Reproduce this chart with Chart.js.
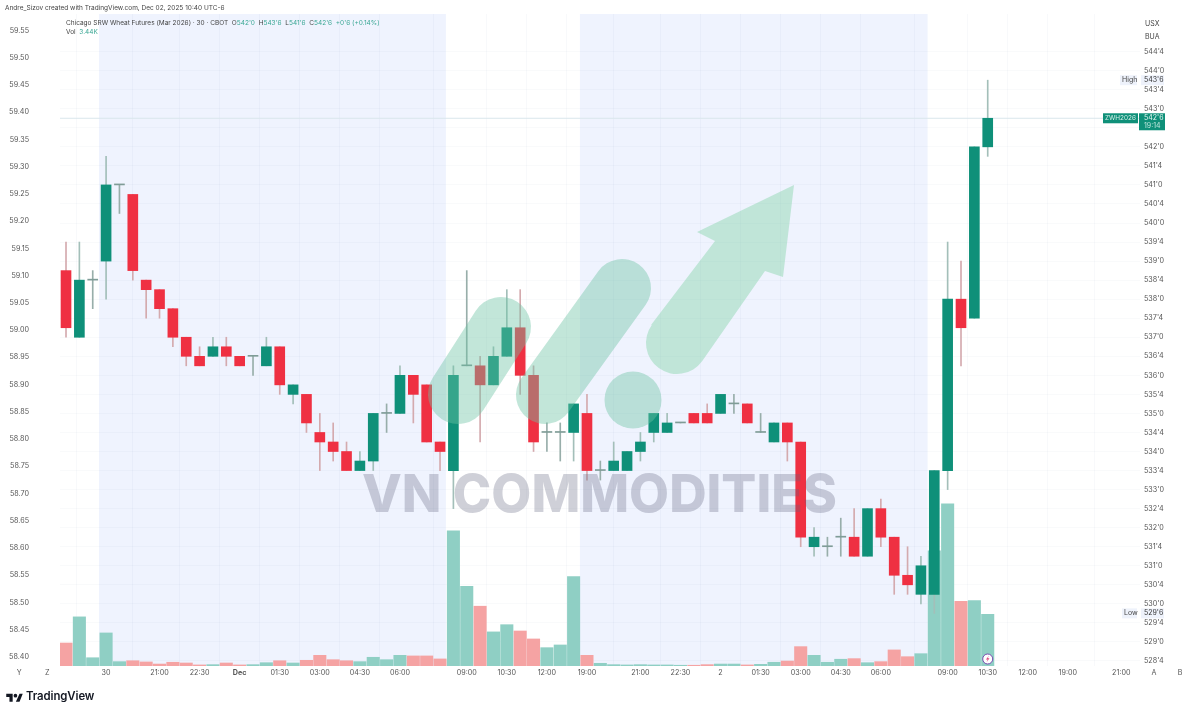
<!DOCTYPE html>
<html>
<head>
<meta charset="utf-8">
<title>Chicago SRW Wheat Futures</title>
<script src="https://cdn.jsdelivr.net/npm/chart.js@4"></script>
<style>
  html, body { margin: 0; padding: 0; background: #fff; }
  #wrap { position: relative; width: 1200px; height: 713px; overflow: hidden; font-family: Inter, "Noto Sans", sans-serif; color: #444; }
  #wrap div.t { position: absolute; white-space: nowrap; font-size: 6.5px; line-height: 10px; }
  .up { color: #3aa794; }
</style>
</head>
<body>
<div id="wrap">
  <canvas id="myChart" width="1200" height="713"></canvas>
  <div class="t" style="left:5px;top:3px">Andre_Sizov created with TradingView.com, Dec 02, 2025 10:40 UTC-6</div>
  <div class="t" style="left:66px;top:18px">Chicago SRW Wheat Futures (Mar 2026) · 30 · CBOT &nbsp;O<span class="up">542'0</span> &nbsp;H<span class="up">543'6</span> &nbsp;L<span class="up">541'6</span> &nbsp;C<span class="up">542'6</span> &nbsp;<span class="up">+0'6 (+0.14%)</span></div>
  <div class="t" style="left:66px;top:27px">Vol &nbsp;<span class="up">3.44K</span></div>
  <div class="t" style="left:1145px;top:19px;font-size:7px">USX</div>
  <div class="t" style="left:1145px;top:32px;font-size:7px">BUA</div>
  <svg style="position:absolute;left:6px;top:692px" width="17" height="11" viewBox="0 0 36 24" fill="#131722"><path d="M14 4H0v7h7v10h7zM29 21h-8l8-17h7z"/><circle cx="20" cy="8" r="4"/></svg>
  <div class="t" style="left:26px;top:689px;font-size:11.4px;line-height:15px;font-weight:600;color:#131722;letter-spacing:-0.1px">TradingView</div>
</div>
<script>
// candle values in cents
const opens = [538.75,537,538.5,539,541,540.75,538.5,538.25,537.75,537,536.5,536.5,536.75,536.5,536.5,536.25,536.75,535.5,535.5,534.5,
  534.25,534,533.5,533.75,535,535,536,535.75,534.25,533.5,536.25,536.25,535.75,536.5,537.25,536,534.5,534.5,534.5,535,
  533.5,533.5,533.5,534,534.5,534.5,534.75,535,535,535,535.25,535.25,534.5,534.25,534.75,534.25,531.5,531.5,531.75,531.75,
  531.25,532.5,531.75,530.75,530.25,530.25,533.5,538,537.5,542];
const highs = [539.5,539.5,538.75,541.75,541,540.75,538.5,538.25,537.75,537,536.75,537,537,536.5,536.5,537,536.75,535.75,535.5,535,
  534.75,534.25,534,535,535.25,536.25,536,535.75,534.25,536.25,538.75,536.5,536.75,538.25,538.25,536.25,534.75,534.75,535.25,535.5,
  533.75,534.25,534,534.5,535,535,534.75,535,535.25,535.5,535.5,535.25,535,534.75,534.75,534.25,532,531.75,532.25,532.5,
  532.5,532.75,531.75,531.5,531.25,533.5,539.5,539,542,543.75];
const lows = [537,537,537.75,538,540.25,538.5,537.5,537.5,536.75,536.25,536.25,536.5,536.25,536.25,536,536.25,535.5,535.25,534.5,533.5,
  533.75,533.5,533.5,533.5,534.5,535,534.75,534.25,533.5,532.5,536.25,534.25,535.75,536.5,535.5,534,534,533.75,533.75,533.25,
  533.25,533.5,533.5,533.75,534.25,534.5,534.75,534.75,534.75,535,535,534.75,534.5,534.25,533.75,531.5,531.25,531.25,531.25,531.25,
  531.25,531.5,530.25,530.25,530,529.75,533,536.25,537.5,541.75];
const closes = [537.25,538.5,538.5,541,541,538.75,538.25,537.75,537,536.5,536.25,536.75,536.5,536.25,536.5,536.75,535.75,535.75,534.75,534.25,
  534,533.5,533.75,535,535,536,535.5,534.25,534,536,536.25,535.75,536.5,537.25,536,534.25,534.5,534.5,535.25,533.5,
  533.5,533.75,534,534.25,535,534.75,534.75,534.75,534.75,535.5,535.25,534.75,534.5,534.75,534.25,531.75,531.75,531.5,531.75,531.25,
  532.5,531.75,530.75,530.5,531,533.5,538,537.25,542,542.75];
// volume in thousands of contracts
const volumes = [1.53,3.27,0.55,2.2,0.29,0.35,0.27,0.13,0.25,0.2,0.07,0.09,0.2,0.07,0.09,0.22,0.35,0.2,0.38,0.71,
  0.42,0.35,0.29,0.58,0.42,0.71,0.67,0.67,0.47,9.0,5.31,3.98,2.27,2.75,2.33,1.8,1.22,1.4,5.95,0.71,
  0.18,0.09,0.07,0.09,0.07,0.07,0.05,0.05,0.09,0.13,0.13,0.07,0.11,0.25,0.33,1.29,0.71,0.25,0.45,0.49,
  0.22,0.29,1.07,0.62,0.82,7.67,10.8,4.31,4.35,3.44];

// time axis: candle index of each label, Y Z A B sit outside the pane
const timeTicks = [-3.5,-1.4,3,7,10,13,16,19,22,25,30,33,36,39,43,46,49,52,55,58,61,66,69,72,75,79,81.45,83.4];
const timeLabels = ['Y','Z','30','21:00','22:30','Dec','01:30','03:00','04:30','06:00','09:00','10:30','12:00','19:00','21:00','22:30','2','01:30','03:00','04:30','06:00','09:00','10:30','12:00','19:00','21:00','A','B'];
// out of hours sessions, in candle index
const sessionBands = [[2.47,28.44],[38.47,64.5]];

const leftTicks = [59.55,59.5,59.45,59.4,59.35,59.3,59.25,59.2,59.15,59.1,59.05,59,58.95,58.9,58.85,58.8,58.75,58.7,58.65,58.6,58.55,58.5,58.45,58.4];
const rightTicks = [544.5,544,543.5,543,542.5,542,541.5,541,540.5,540,539.5,539,538.5,538,537.5,537,536.5,536,535.5,535,534.5,534,533.5,533,532.5,532,531.5,531,530.5,530,529.5,529,528.5];

const highPrice = 543.75;
const lowPrice = 529.75;
const lastPrice = 542.75;

const GREEN = '#0f9079';
const RED = '#ef3042';

// 542.75 -> 542'6
function fmtCents(v){
    const whole = Math.floor(v);
    return whole + "'" + Math.round((v - whole) * 8);
}
function isUp(i){ return closes[i] >= opens[i]; }

// session shading, goes under the grid
const bandPlugin = {
    id: 'bands',
    beforeDraw(chart){
        const { ctx, chartArea, scales } = chart;
        ctx.save();
        ctx.fillStyle = '#eff3fe';
        sessionBands.forEach(b => {
            const x0 = scales.x.getPixelForValue(b[0]);
            const x1 = scales.x.getPixelForValue(b[1]);
            ctx.fillRect(x0, chartArea.top, x1 - x0, chartArea.bottom - chartArea.top);
        });
        ctx.restore();
    }
};

// the VN COMMODITIES stamp lying over the candles
const stampPlugin = {
    id: 'stamp',
    afterDatasetsDraw(chart){
        const ctx = chart.ctx;
        ctx.save();
        ctx.lineCap = 'round';
        ctx.strokeStyle = ctx.fillStyle = 'rgba(110,195,165,.42)';
        ctx.lineWidth = 60;
        ctx.beginPath(); ctx.moveTo(458, 394); ctx.lineTo(501, 327); ctx.stroke();
        ctx.lineWidth = 58;
        ctx.beginPath(); ctx.moveTo(545, 395); ctx.lineTo(622, 288); ctx.stroke();
        ctx.beginPath(); ctx.arc(633, 400, 28.5, 0, Math.PI * 2); ctx.fill();
        ctx.fillStyle = 'rgba(126,210,165,.42)';
        ctx.beginPath();
        ctx.moveTo(794, 185);
        ctx.lineTo(697, 232);
        ctx.lineTo(715, 241);
        ctx.lineTo(651, 325);
        ctx.arc(677, 343, 31, Math.PI * 1.2, Math.PI * 0.2, true);
        ctx.lineTo(765, 271);
        ctx.lineTo(783, 277);
        ctx.closePath();
        ctx.fill();
        ctx.fillStyle = 'rgba(95,100,125,.3)';
        ctx.font = '800 52px Inter';
        ctx.textBaseline = 'alphabetic';
        const text = 'VN COMMODITIES';
        const w = ctx.measureText(text).width;
        ctx.translate(362, 512);
        ctx.scale(475 / w, 1);
        ctx.fillText(text, 0, 0);
        ctx.restore();
    }
};

// price tags on the right hand axis and the little alert badge
const tagPlugin = {
    id: 'tags',
    afterDraw(chart){
        const { ctx, scales } = chart;
        const y = scales.y;
        ctx.save();
        ctx.font = '7px Inter';
        ctx.textBaseline = 'middle';
        function box(x, yy, w, h, bg, fg, label, tx){
            ctx.fillStyle = bg;
            ctx.fillRect(x, yy, w, h);
            ctx.fillStyle = fg;
            ctx.fillText(label, tx, yy + 5);
        }
        [['High', highPrice, 1122], ['Low', lowPrice, 1124]].forEach(t => {
            const py = y.getPixelForValue(t[1]);
            box(t[2] - 2, py - 5, 1139 - t[2], 10, '#eef2fb', '#444', t[0], t[2]);
            box(1141, py - 5, 23, 10, '#eef2fb', '#333', fmtCents(t[1]), 1144);
        });
        const py = y.getPixelForValue(lastPrice);
        ctx.font = '6.4px Inter';
        box(1103, py - 5, 35, 10, GREEN, '#d8f0ea', 'ZWH2026', 1105);
        ctx.font = '7px Inter';
        box(1139, py - 5, 26, 17, GREEN, '#e4f5f1', fmtCents(lastPrice), 1144);
        ctx.fillStyle = '#bfe6dd';
        ctx.fillText('19:14', 1144, py + 8);

        // lightning badge over the last volume bar
        const bx = scales.x.getPixelForValue(69);
        const by = 659;
        ctx.beginPath(); ctx.arc(bx, by, 5, 0, Math.PI * 2);
        ctx.fillStyle = '#fff'; ctx.fill();
        ctx.strokeStyle = '#7b4bb0'; ctx.lineWidth = 1; ctx.stroke();
        ctx.beginPath();
        ctx.moveTo(bx + 1.2, by - 3.2); ctx.lineTo(bx - 1.8, by + 0.5); ctx.lineTo(bx, by + 0.5);
        ctx.lineTo(bx - 1.2, by + 3.2); ctx.lineTo(bx + 1.8, by - 0.8); ctx.lineTo(bx, by - 0.8);
        ctx.closePath();
        ctx.fillStyle = '#e0457b'; ctx.fill();
        ctx.restore();
    }
};

// tick padding must not push the pane down, only the label away from it
function noPad(s){
    s.paddingTop = 0;
    s.paddingBottom = 0;
    s.width = 60;
}

const idx = opens.map((_, i) => i);
const ctx = document.getElementById('myChart').getContext('2d');
const axisFont = { family: 'Inter', size: 7.2 };

new Chart(ctx, {
    data: {
        datasets: [
            {
                type: 'bar',
                label: 'body',
                order: 1,
                grouped: false,
                yAxisID: 'y',
                data: idx.map(i => ({ x: i, y: [opens[i], closes[i]] })),
                backgroundColor: idx.map(i => opens[i] === closes[i] ? '#7f9c97' : (isUp(i) ? GREEN : RED)),
                barThickness: 10,
                minBarLength: 1
            },
            {
                type: 'bar',
                label: 'wick',
                order: 2,
                grouped: false,
                yAxisID: 'y',
                data: idx.map(i => ({ x: i, y: [lows[i], highs[i]] })),
                backgroundColor: idx.map(i => opens[i] === closes[i] ? '#98aeaa' : (isUp(i) ? '#a3bfb9' : '#d4aaae')),
                barThickness: 1
            },
            {
                type: 'line',
                label: 'last',
                order: 3,
                yAxisID: 'y',
                data: [{ x: -0.45, y: lastPrice }, { x: 80.4, y: lastPrice }],
                borderColor: '#d9e6ec',
                borderWidth: 1,
                pointRadius: 0
            },
            {
                type: 'bar',
                label: 'Vol',
                order: 4,
                grouped: false,
                yAxisID: 'yVol',
                data: idx.map(i => ({ x: i, y: volumes[i] })),
                backgroundColor: idx.map(i => isUp(i) ? '#8fcfc4' : '#f5a3a3'),
                barThickness: 12.4
            }
        ]
    },
    options: {
        responsive: false,
        animation: false,
        layout: { padding: { top: 14, left: 0, right: 0, bottom: 0 } },
        plugins: { legend: { display: false }, tooltip: { enabled: false } },
        scales: {
            x: {
                type: 'linear',
                offset: false,
                min: -0.45,
                max: 80.4,
                afterBuildTicks: s => { s.ticks = timeTicks.map(v => ({ value: v })); },
                afterFit: s => { s.height = 47; },
                border: { display: false },
                grid: {
                    drawTicks: false,
                    color: c => (c.tick && c.tick.value > 0 && c.tick.value < 80) ? 'rgba(60,80,140,.035)' : 'transparent'
                },
                ticks: {
                    autoSkip: false,
                    maxRotation: 0,
                    padding: 3,
                    color: '#555',
                    font: c => (c.tick && c.tick.value === 13) ? { family: 'Inter', size: 7.2, weight: 'bold' } : axisFont,
                    callback: v => timeLabels[timeTicks.indexOf(v)]
                }
            },
            y: {
                position: 'right',
                min: 528.368,
                max: 545.488,
                afterBuildTicks: s => { s.ticks = rightTicks.map(v => ({ value: v })); },
                afterFit: noPad,
                border: { display: false },
                grid: { drawTicks: false, color: 'rgba(60,80,140,.03)' },
                ticks: {
                    padding: 4,
                    color: '#555',
                    font: axisFont,
                    callback: v => fmtCents(v)
                }
            },
            yLeft: {
                position: 'left',
                min: 58.3833,
                max: 59.5803,
                afterBuildTicks: s => { s.ticks = leftTicks.map(v => ({ value: v })); },
                afterFit: noPad,
                border: { display: false },
                grid: { display: false, drawTicks: false },
                ticks: {
                    padding: 31,
                    color: '#555',
                    font: axisFont,
                    callback: v => v.toFixed(2)
                }
            },
            yVol: {
                display: false,
                min: 0,
                max: 43.4
            }
        }
    },
    plugins: [bandPlugin, stampPlugin, tagPlugin]
});
</script>
</body>
</html>
